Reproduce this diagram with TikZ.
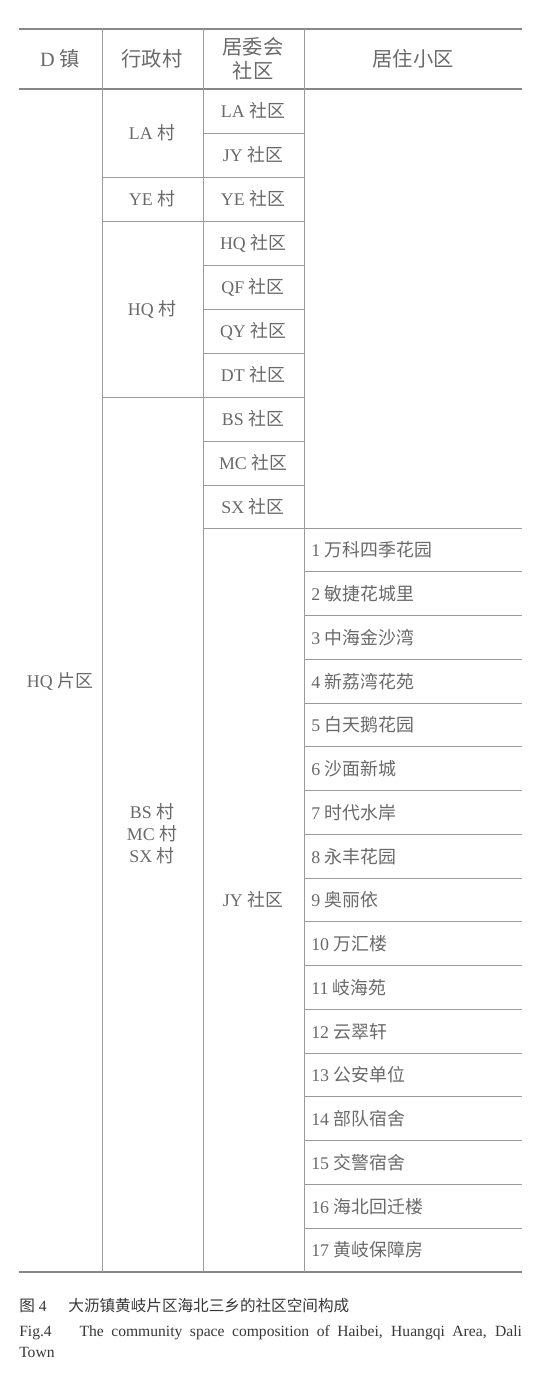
\documentclass[tikz,border=0pt]{standalone}
\usepackage{fontspec}
\setmainfont{Liberation Serif}
\newfontfamily\cjk{Noto Sans CJK SC}
\definecolor{txtgray}{RGB}{105,105,105}
\definecolor{capgray}{RGB}{55,55,55}
\definecolor{rulegray}{RGB}{135,135,135}
\definecolor{linegray}{RGB}{155,155,155}
\tikzset{
  cell/.style={inner sep=0.75pt, text=txtgray, font=\fontsize{13.4}{16.5}\selectfont, align=center},
  head/.style={inner sep=0.75pt, text=txtgray, font=\fontsize{15.2}{18}\selectfont, align=center},
  caption/.style={inner sep=0pt, text=capgray, font=\fontsize{11.7}{14}\selectfont},
  rule/.style={draw=rulegray, line width=1.1pt},
  gridline/.style={draw=linegray, line width=0.6pt},
}
\begin{document}
\begin{tikzpicture}[x=0.75pt,y=0.75pt,yscale=-1,xscale=1]
\useasboundingbox (0,0) rectangle (542,1376);

%Straight Lines: top, header and bottom rules
\draw [rule] (19,29) -- (522,29) ;
\draw [rule] (19,89) -- (522,89) ;
\draw [rule] (19,1272) -- (522,1272) ;
%Straight Lines: columns
\foreach \x in {102,203,304}
  \draw [gridline] (\x,29) -- (\x,1272) ;
%Straight Lines: community rows
\foreach \y in {133,265,309,353,441,485}
  \draw [gridline] (203,\y) -- (304,\y) ;
\foreach \y in {177,221,397}
  \draw [gridline] (102,\y) -- (304,\y) ;
\draw [gridline] (203,528) -- (522,528) ;
%Straight Lines: residential rows
\foreach \i in {1,...,16}
  \draw [gridline] (304,{528+\i*43.76}) -- (522,{528+\i*43.76}) ;

% Text Node: header
\node [head] (hTown) at (60,59) {D {\cjk 镇}};
\node [head] (hVillage) at (152,59) {\cjk 行政村};
\node [head] (hCommittee) at (253,59) {{\cjk 居委会}\\{\cjk 社区}};
\node [head] (hEstate) at (413,59) {\cjk 居住小区};

% Text Node: area
\node [cell] (area) at (60,681) {HQ {\cjk 片区}};

% Text Node: villages
\node [cell] (vLA) at (152,133) {LA {\cjk 村}};
\node [cell] (vYE) at (152,199) {YE {\cjk 村}};
\node [cell] (vHQ) at (152,309) {HQ {\cjk 村}};
\node [cell] (vBMS) at (152,834) {BS {\cjk 村}\\MC {\cjk 村}\\SX {\cjk 村}};

% Text Node: communities
\foreach \i/\c in {0/LA,1/JY,2/YE,3/HQ,4/QF,5/QY,6/DT,7/BS,8/MC,9/SX}
  \node [cell] (c\c) at (253,{111+\i*44}) {\c\ {\cjk 社区}};
\node [cell] (cJYbig) at (253,900) {JY {\cjk 社区}};

% Text Node: residential estates
\foreach \i/\t in {1/万科四季花园,2/敏捷花城里,3/中海金沙湾,4/新荔湾花苑,5/白天鹅花园,
    6/沙面新城,7/时代水岸,8/永丰花园,9/奥丽依,10/万汇楼,11/岐海苑,12/云翠轩,
    13/公安单位,14/部队宿舍,15/交警宿舍,16/海北回迁楼,17/黄岐保障房}
  \node [cell, anchor=west] (r\i) at (310,{528+(\i-0.5)*43.76}) {\i\ {\cjk \t}};

% Text Node: caption
\node [caption, anchor=base west] (capCn) at (19,1311) {{\cjk 图}~4\hspace{1.4em}{\cjk 大沥镇黄岐片区海北三乡的社区空间构成}};
\node [caption, anchor=base west] (capEn) at (19,1336) {\makebox[377pt][s]{Fig.4\hspace{1.3em} The community space composition of Haibei, Huangqi Area, Dali}};
\node [caption, anchor=base west] (capEn2) at (19,1357) {Town};

\end{tikzpicture}
\end{document}
